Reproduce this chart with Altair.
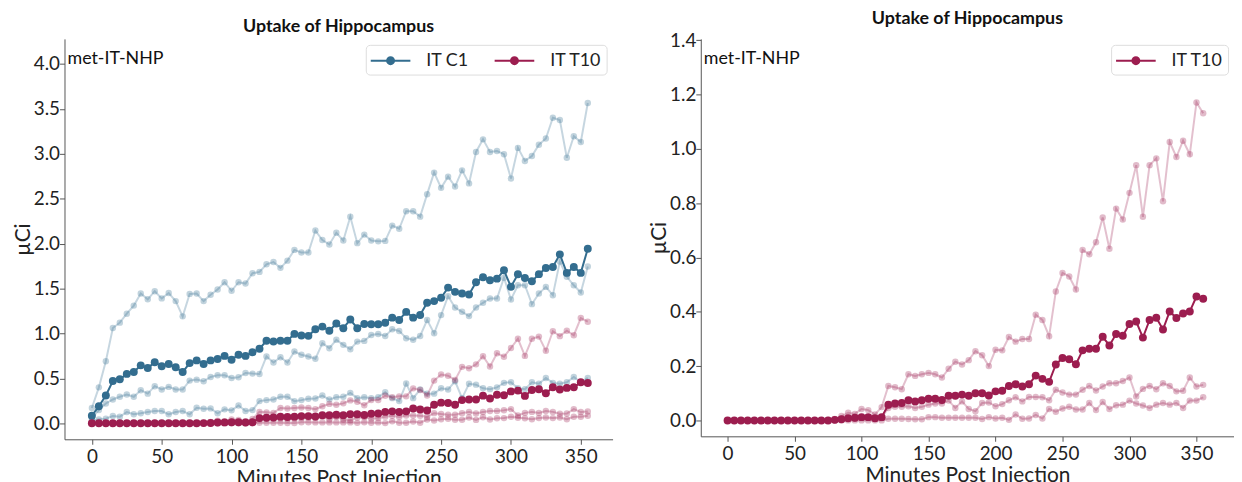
import altair as alt
import pandas as pd

minutes = [0, 5, 10, 15, 20, 25, 30, 35, 40, 45, 50, 55, 60, 65, 70, 75, 80, 85, 90, 95,
           100, 105, 110, 115, 120, 125, 130, 135, 140, 145, 150, 155, 160, 165, 170, 175,
           180, 185, 190, 195, 200, 205, 210, 215, 220, 225, 230, 235, 240, 245, 250, 255,
           260, 265, 270, 275, 280, 285, 290, 295, 300, 305, 310, 315, 320, 325, 330, 335,
           340, 345, 350, 355]

c1_mean = [0.085, 0.19, 0.31, 0.47, 0.49, 0.55, 0.57, 0.645, 0.615, 0.68, 0.634, 0.66, 0.623, 0.57,
           0.67, 0.70, 0.66, 0.70, 0.715, 0.75, 0.708, 0.763, 0.75, 0.79, 0.83, 0.918, 0.91, 0.918,
           0.918, 0.995, 0.977, 0.973, 1.047, 1.076, 1.03, 1.11, 1.058, 1.155, 1.058, 1.106, 1.102,
           1.102, 1.12, 1.176, 1.15, 1.24, 1.176, 1.206, 1.342, 1.36, 1.397, 1.51, 1.463, 1.445,
           1.434, 1.57, 1.625, 1.592, 1.61, 1.703, 1.519, 1.659, 1.618, 1.58, 1.66, 1.729, 1.74,
           1.88, 1.674, 1.74, 1.674, 1.943]
c1_a = [0.17, 0.40, 0.69, 1.06, 1.12, 1.22, 1.31, 1.445, 1.38, 1.47, 1.39, 1.45, 1.36, 1.19, 1.44,
        1.445, 1.36, 1.43, 1.49, 1.57, 1.475, 1.57, 1.555, 1.67, 1.685, 1.77, 1.795, 1.73, 1.81,
        1.93, 1.90, 1.90, 2.145, 2.04, 1.99, 2.12, 2.035, 2.30, 2.005, 2.10, 2.035, 2.025, 2.03,
        2.20, 2.165, 2.36, 2.36, 2.30, 2.55, 2.79, 2.62, 2.745, 2.635, 2.815, 2.67, 3.02, 3.16,
        3.02, 3.03, 2.995, 2.725, 3.065, 2.92, 2.975, 3.10, 3.17, 3.40, 3.375, 2.955, 3.195, 3.13,
        3.565]
c1_b = [0.06, 0.147, 0.221, 0.265, 0.295, 0.32, 0.295, 0.368, 0.33, 0.413, 0.376, 0.405, 0.376,
        0.376, 0.475, 0.486, 0.468, 0.516, 0.535, 0.535, 0.505, 0.512, 0.56, 0.553, 0.549, 0.744,
        0.677, 0.736, 0.677, 0.799, 0.762, 0.744, 0.718, 0.891, 0.836, 0.929, 0.873, 0.825, 0.909,
        0.917, 0.983, 0.994, 0.972, 1.046, 1.028, 0.947, 0.929, 0.972, 1.149, 1.002, 1.204, 1.414,
        1.289, 1.241, 1.193, 1.289, 1.341, 1.389, 1.389, 1.62, 1.378, 1.536, 1.536, 1.326, 1.444,
        1.518, 1.426, 1.80, 1.63, 1.536, 1.455, 1.745]
c1_c = [0.03, 0.044, 0.052, 0.081, 0.074, 0.125, 0.10, 0.111, 0.125, 0.136, 0.136, 0.10, 0.125,
        0.136, 0.10, 0.173, 0.162, 0.166, 0.111, 0.155, 0.144, 0.199, 0.136, 0.147, 0.247, 0.258,
        0.265, 0.295, 0.295, 0.247, 0.258, 0.273, 0.276, 0.309, 0.264, 0.291, 0.295, 0.339, 0.28,
        0.291, 0.28, 0.291, 0.346, 0.28, 0.247, 0.442, 0.28, 0.376, 0.33, 0.33, 0.39, 0.376, 0.468,
        0.28, 0.44, 0.43, 0.39, 0.38, 0.40, 0.45, 0.457, 0.39, 0.38, 0.457, 0.44, 0.505, 0.45,
        0.44, 0.457, 0.516, 0.457, 0.505]

t10_mean = [0, 0, 0, 0, 0, 0, 0, 0, 0, 0, 0, 0, 0, 0, 0, 0, 0.002, 0.004, 0.008, 0.01, 0.012,
            0.012, 0.008, 0.012, 0.058, 0.062, 0.064, 0.074, 0.07, 0.074, 0.08, 0.08, 0.075,
            0.091, 0.091, 0.095, 0.091, 0.10, 0.10, 0.092, 0.107, 0.109, 0.127, 0.133, 0.125,
            0.133, 0.165, 0.153, 0.142, 0.206, 0.23, 0.225, 0.207, 0.258, 0.264, 0.264, 0.308,
            0.276, 0.318, 0.312, 0.355, 0.364, 0.305, 0.37, 0.378, 0.335, 0.401, 0.377, 0.394,
            0.401, 0.456, 0.448]
t10_a = [0, 0, 0, 0, 0, 0, 0, 0, 0, 0, 0, 0, 0, 0, 0, 0.002, 0.005, 0.016, 0.028, 0.024, 0.042,
         0.038, 0.022, 0.049, 0.127, 0.122, 0.115, 0.17, 0.164, 0.17, 0.175, 0.17, 0.158, 0.19,
         0.216, 0.206, 0.222, 0.255, 0.24, 0.2, 0.26, 0.258, 0.307, 0.29, 0.3, 0.3, 0.389, 0.37,
         0.31, 0.475, 0.543, 0.53, 0.482, 0.628, 0.612, 0.656, 0.747, 0.632, 0.78, 0.74, 0.838,
         0.94, 0.75, 0.94, 0.965, 0.807, 1.025, 0.97, 1.03, 0.98, 1.171, 1.131]
t10_b = [0, 0, 0, 0, 0, 0, 0, 0, 0, 0, 0, 0, 0, 0, 0, 0, 0, 0.003, 0.006, 0.006, 0.01, 0.012,
         0.006, 0.01, 0.046, 0.05, 0.05, 0.052, 0.046, 0.05, 0.058, 0.062, 0.062, 0.073, 0.046,
         0.07, 0.042, 0.034, 0.064, 0.066, 0.052, 0.06, 0.074, 0.085, 0.07, 0.086, 0.086, 0.085,
         0.074, 0.113, 0.103, 0.095, 0.095, 0.113, 0.127, 0.11, 0.125, 0.137, 0.137, 0.145, 0.158,
         0.088, 0.116, 0.127, 0.115, 0.137, 0.127, 0.107, 0.109, 0.158, 0.125, 0.131]
t10_c = [0, 0, 0, 0, 0, 0, 0, 0, 0, 0, 0, 0, 0, 0, 0, 0, 0, 0, 0, 0, 0, 0, 0, 0, 0.006, 0.006,
         0.006, 0.005, 0.004, 0.004, 0.012, 0.012, 0.01, 0.01, 0.01, 0.01, 0.01, 0.01, 0.005,
         0.012, 0.007, 0.01, 0.002, 0.022, 0.006, 0.007, 0.02, 0.007, 0.042, 0.032, 0.044, 0.05,
         0.04, 0.04, 0.064, 0.038, 0.068, 0.042, 0.056, 0.058, 0.073, 0.062, 0.055, 0.046, 0.058,
         0.064, 0.058, 0.064, 0.046, 0.073, 0.073, 0.085]

groups = ["IT C1", "IT T10"]
x_ticks = [0, 50, 100, 150, 200, 250, 300, 350]
y_ticks_left = [0.0, 0.5, 1.0, 1.5, 2.0, 2.5, 3.0, 3.5, 4.0]
y_ticks_right = [0.0, 0.2, 0.4, 0.6, 0.8, 1.0, 1.2, 1.4]
title_text = "Uptake of Hippocampus"
note_text = "met-IT-NHP"

BLUE = "#336d8f"
RED = "#9c1d4f"
FONT = "Lato"
COLORS = {"IT C1": BLUE, "IT T10": RED}

rows = []
for grp, series in [("IT C1", {"mean": c1_mean, "a": c1_a, "b": c1_b, "c": c1_c}),
                    ("IT T10", {"mean": t10_mean, "a": t10_a, "b": t10_b, "c": t10_c})]:
    for name, vals in series.items():
        for m, v in zip(minutes, vals):
            rows.append({"group": grp, "series": name, "minute": m, "value": v})
df = pd.DataFrame(rows)

# legend glyph: a 40px line with a solid dot (stroked concentric rings); scale 10px/unit
LEGEND_PATH = ("M-2,0L2,0"
               "M0.35,0A0.35,0.35,0,1,1,-0.35,0A0.35,0.35,0,1,1,0.35,0"
               "M0.18,0A0.18,0.18,0,1,1,-0.18,0A0.18,0.18,0,1,1,0.18,0"
               "M0.05,0A0.05,0.05,0,1,1,-0.05,0A0.05,0.05,0,1,1,0.05,0")


def panel(panel_groups, xdom, ydom, yticks, width, height):
    x = alt.X("minute:Q", title="Minutes Post Injection",
              scale=alt.Scale(domain=xdom, nice=False, zero=False),
              axis=alt.Axis(values=x_ticks, format="d"))
    y = alt.Y("value:Q", title="µCi",
              scale=alt.Scale(domain=ydom, nice=False, zero=False),
              axis=alt.Axis(values=yticks, format=".1f"))
    base = alt.Chart(df)
    legend = alt.Legend(
        title=None, orient="top-right", offset=6,
        direction="horizontal", columns=len(panel_groups),
        symbolType=LEGEND_PATH, symbolSize=400, symbolStrokeWidth=2, symbolOffset=9,
        labelFontSize=18, labelFont=FONT, labelColor="#222", labelOffset=25,
        columnPadding=22, padding=5, strokeColor="#dddddd", cornerRadius=4,
        fillColor="white")
    color = alt.Color("group:N",
                      scale=alt.Scale(domain=panel_groups,
                                      range=[COLORS[g] for g in panel_groups]),
                      legend=legend)
    layers = []
    for g in panel_groups:
        c = COLORS[g]
        faint = base.transform_filter(
            (alt.datum.group == g) & (alt.datum.series != "mean"))
        layers.append(faint.mark_line(color=c, opacity=0.28, strokeWidth=2).encode(
            x=x, y=y, detail="series:N"))
        layers.append(faint.mark_circle(color=c, opacity=0.3, size=42).encode(x=x, y=y))
        dark = base.transform_filter((alt.datum.group == g) & (alt.datum.series == "mean"))
        layers.append(dark.mark_line(strokeWidth=2).encode(x=x, y=y, color=color))
        layers.append(dark.mark_circle(color=c, size=64, opacity=1).encode(x=x, y=y))
    note = alt.Chart(pd.DataFrame({"t": [note_text]})).mark_text(
        align="left", baseline="alphabetic", fontSize=18, font=FONT, color="#111").encode(
        text="t:N", x=alt.value(3), y=alt.value(25))
    layers.append(note)
    return alt.layer(*layers).properties(
        width=width, height=height,
        title=alt.TitleParams(title_text, fontSize=18, font=FONT, fontWeight="bold",
                              color="#111", offset=3))


left = panel(["IT C1", "IT T10"], [-19.6, 372.75], [-0.178, 4.278], y_ticks_left, 553, 404)
right = panel(["IT T10"], [-20, 378], [-0.0586, 1.405], y_ticks_right, 538, 401)

chart = alt.hconcat(left, right, spacing=36).resolve_scale(
    color="independent").properties(padding={"left": 4, "top": 0, "right": 0, "bottom": 0}
).configure_view(stroke=None).configure_axis(
    grid=False, domainColor="#555", tickColor="#555", tickSize=5,
    labelFontSize=19, titleFontSize=21, labelFont=FONT, titleFont=FONT,
    labelColor="#222", titleColor="#222", titleFontWeight="normal"
).configure_axisX(labelPadding=3, titlePadding=2
).configure_axisY(labelPadding=0, titlePadding=0)

chart.save("out.html", embed_options={"renderer": "svg", "actions": False})
